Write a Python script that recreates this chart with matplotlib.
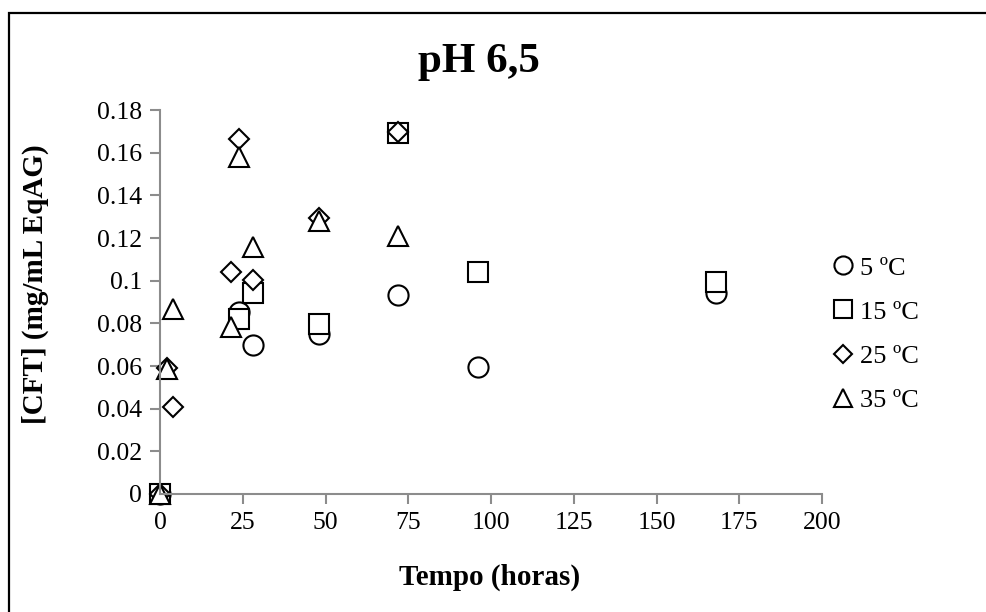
import matplotlib
matplotlib.use("Agg")
import matplotlib.pyplot as plt
from matplotlib.patches import Rectangle

plt.rcParams['font.family'] = ['Liberation Serif', 'DejaVu Serif']

# Data
t_5 = [0, 24, 28, 48, 72, 96, 168]
c_5 = [0, 0.0855, 0.070, 0.075, 0.0935, 0.0595, 0.094]

t_15 = [0, 24, 28, 48, 72, 96, 168]
c_15 = [0, 0.082, 0.094, 0.0795, 0.169, 0.104, 0.0995]

t_25 = [0, 2, 4, 21.5, 24, 28, 48, 72]
c_25 = [0, 0.059, 0.041, 0.104, 0.1665, 0.1005, 0.1295, 0.1695]

t_35 = [0, 2, 4, 21.5, 24, 28, 48, 72]
c_35 = [0, 0.0585, 0.0865, 0.0785, 0.158, 0.116, 0.128, 0.121]

labels = ["5 ºC", "15 ºC", "25 ºC", "35 ºC"]
x_ticks = [0, 25, 50, 75, 100, 125, 150, 175, 200]
y_ticks = [0, 0.02, 0.04, 0.06, 0.08, 0.1, 0.12, 0.14, 0.16, 0.18]
y_tick_labels = ["0", "0.02", "0.04", "0.06", "0.08", "0.1", "0.12", "0.14", "0.16", "0.18"]

W, H = 987, 612
fig = plt.figure(figsize=(W / 100, H / 100), dpi=100)
ax = fig.add_axes([160 / W, 1 - 494 / H, (822 - 160) / W, (494 - 110) / H])

mkw = dict(linestyle='none', markerfacecolor='white', markeredgecolor='black', markeredgewidth=1.5)
ax.plot(t_5, c_5, marker='o', markersize=14.5, label=labels[0], **mkw)
ax.plot(t_15, c_15, marker='s', markersize=14, label=labels[1], **mkw)
ax.plot(t_25, c_25, marker='D', markersize=10.5, label=labels[2], **mkw)
ax.plot(t_35, c_35, marker='^', markersize=14.5, label=labels[3], **mkw)

ax.set_xlim(0, 200)
ax.set_ylim(0, 0.18)
ax.set_xticks(x_ticks)
ax.set_yticks(y_ticks)
ax.set_yticklabels(y_tick_labels)

grey = '#8c8c8c'
for s in ['top', 'right']:
    ax.spines[s].set_visible(False)
for s in ['left', 'bottom']:
    ax.spines[s].set_color(grey)
    ax.spines[s].set_linewidth(1.5)
ax.tick_params(axis='both', direction='out', length=7, width=1.5, color=grey,
               labelsize=18.5, labelcolor='black', pad=6)
for ln in ax.lines:
    ln.set_clip_on(False)

fig.text(479 / W, 1 - 62 / H, "pH 6,5", fontsize=31, fontweight='bold', ha='center', va='center')
fig.text(490 / W, 1 - 577 / H, "Tempo (horas)", fontsize=21, fontweight='bold', ha='center', va='center')
fig.text(35 / W, 1 - 284 / H, "[CFT] (mg/mL EqAG)", fontsize=21, fontweight='bold',
         ha='center', va='center', rotation=90)

leg = fig.legend(loc='center left', bbox_to_anchor=(822 / W, 1 - 334 / H), frameon=False,
                 fontsize=19, handlelength=0.8, handletextpad=0.25, labelspacing=0.78,
                 markerscale=0.9, borderaxespad=0)

fig.patches.append(Rectangle((9 / W, -0.05), 1.1, 1 - 13 / H + 0.05, transform=fig.transFigure,
                             fill=False, edgecolor='black', linewidth=1.6))

fig.savefig("out.png", dpi=100)
